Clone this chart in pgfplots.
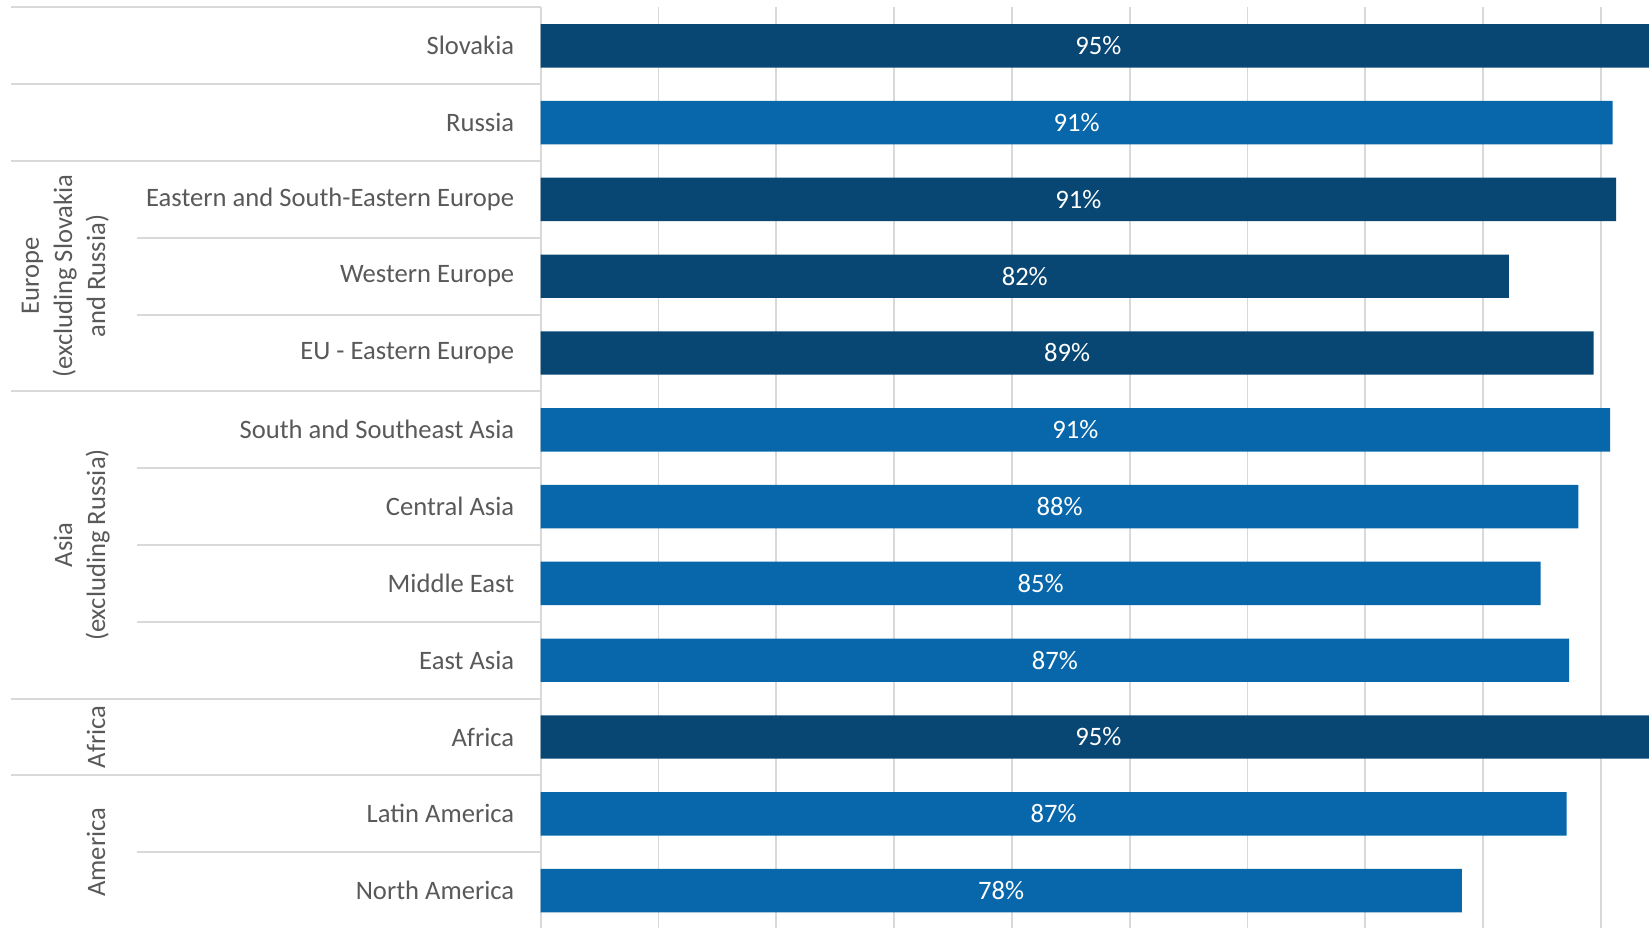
\documentclass[border=0pt]{standalone}
\usepackage{pgfplots}
\pgfplotsset{compat=1.18}
\usepackage{pgfplotstable}
\usepackage{fontspec}
\setmainfont{Carlito}
\definecolor{darkbar}{HTML}{084673}
\definecolor{bluebar}{HTML}{0767AA}
\definecolor{txt}{HTML}{595959}
\definecolor{gridc}{HTML}{D9D9D9}
\newcommand{\lf}{\fontsize{13.3pt}{16pt}\selectfont}

\pgfplotstableread{
y v lab
0 94.7 95
2 91.3 91
3 82.2 82
4 89.4 89
9 94.7 95
}\darkdata
\pgfplotstableread{
y v lab
1 91.0 91
5 90.8 91
6 88.1 88
7 84.9 85
8 87.3 87
10 87.1 87
11 78.2 78
}\bluedata

\begin{document}
\begin{tikzpicture}[x=0.5pt,y=0.5pt]
\useasboundingbox (0,0) rectangle (1649,927);
\clip (0,0) rectangle (1649,927);
\begin{axis}[
  at={(270.3pt,459.8pt)}, anchor=north west,
  scale only axis, width=589pt, height=460.8pt,
  xmin=0, xmax=100, ymin=-0.5, ymax=11.5, y dir=reverse,
  xtick={0,10,...,90}, xticklabels={},
  ytick={0,...,11},
  yticklabels={Slovakia, Russia, Eastern and South-Eastern Europe, Western Europe, EU - Eastern Europe, South and Southeast Asia, Central Asia, Middle East, East Asia, Africa, Latin America, North America},
  yticklabel style={font=\lf, text=txt, anchor=east, inner sep=0pt, xshift=-13pt},
  major tick length=0pt,
  xmajorgrids, grid style={draw=gridc, line width=0.9pt},
  axis line style={draw=none},
]
\addplot[xbar, bar shift=0pt, bar width=21.7pt, fill=darkbar, draw=none] table[x=v,y=y]{\darkdata};
\addplot[xbar, bar shift=0pt, bar width=21.7pt, fill=bluebar, draw=none] table[x=v,y=y]{\bluedata};
\addplot[draw=none, mark=none, point meta=explicit symbolic,
  nodes near coords={\pgfplotspointmeta\%},
  every node near coord/.append style={font=\lf, text=white, anchor=center, inner sep=0pt}]
  table[x expr=\thisrow{v}/2, y=y, meta=lab]{\darkdata};
\addplot[draw=none, mark=none, point meta=explicit symbolic,
  nodes near coords={\pgfplotspointmeta\%},
  every node near coord/.append style={font=\lf, text=white, anchor=center, inner sep=0pt}]
  table[x expr=\thisrow{v}/2, y=y, meta=lab]{\bluedata};
\end{axis}
% separators
\foreach \yy in {919.6,842.8,766.0,535.6,228.4,151.6}
  \draw[gridc, line width=1pt] (11,\yy) -- (540.6,\yy);
\foreach \yy in {689.2,612.4,458.8,382.0,305.2,74.8}
  \draw[gridc, line width=1pt] (136.7,\yy) -- (540.6,\yy);
% group labels
\begin{scope}[every node/.style={rotate=90, anchor=base, inner sep=0pt, font=\lf, text=txt}]
\node at (39,650.8) {Europe};
\node at (72,650.8) {(excluding Slovakia};
\node at (105,650.8) {and Russia)};
\node at (72,382) {Asia};
\node at (105,382) {(excluding Russia)};
\node at (105,190) {Africa};
\node at (105,74.8) {America};
\end{scope}
\end{tikzpicture}
\end{document}
